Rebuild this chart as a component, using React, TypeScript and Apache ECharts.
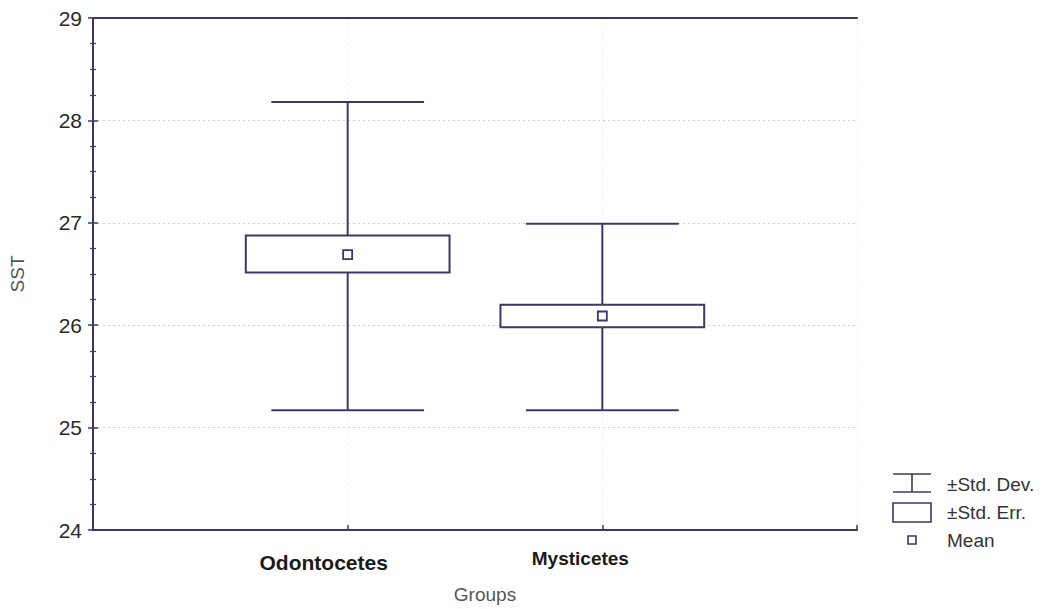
import React, { useEffect, useRef } from 'react';
import * as echarts from 'echarts';

// Group summaries of sea surface temperature (SST)
const groups = ['Odontocetes', 'Mysticetes'];
const groupPos = [1, 2];
const means = [26.69, 26.09];
const stdErrLow = [26.515, 25.98];
const stdErrHigh = [26.875, 26.2];
const stdDevLow = [25.17, 25.17];
const stdDevHigh = [28.18, 26.99];
const yTicks = [24, 25, 26, 27, 28, 29];
const legendLabels = ['\u00B1Std. Dev.', '\u00B1Std. Err.', 'Mean'];

const INK = '#3b3868';
const TEXT = '#2a2a2a';
const FONT = '"Liberation Sans", Arial, sans-serif';

export default function App() {
  const ref = useRef<HTMLDivElement>(null);

  useEffect(() => {
    if (!ref.current) return;
    const chart = echarts.init(ref.current, undefined, { renderer: 'svg' });

    const data = groups.map((_, i) => [
      groupPos[i],
      means[i],
      stdErrLow[i],
      stdErrHigh[i],
      stdDevLow[i],
      stdDevHigh[i],
    ]);

    const yMin = yTicks[0];
    const yMax = yTicks[yTicks.length - 1];

    const sideAxis = (position: 'left' | 'right', showLabels: boolean) => ({
      type: 'value',
      position,
      min: yMin,
      max: yMax,
      interval: 1,
      axisLine: { show: true, lineStyle: { color: INK, width: 2 } },
      axisTick: { show: true, inside: true, length: 5, lineStyle: { color: INK, width: 1.5 } },
      minorTick: { show: true, splitNumber: 4, length: 3, lineStyle: { color: INK, width: 1.2 } },
      axisLabel: {
        show: showLabels,
        color: TEXT,
        fontSize: 21,
        fontFamily: FONT,
        margin: 11,
      },
      splitLine: showLabels
        ? { show: true, lineStyle: { color: '#c9cbe0', type: [2, 3], width: 1 } }
        : { show: false },
      name: showLabels ? 'SST' : '',
      nameLocation: 'middle',
      nameGap: 66,
      nameTextStyle: { color: '#555', fontSize: 19, fontFamily: FONT },
    });

    const richLabels: Record<string, any> = {};
    groups.forEach((_, i) => {
      richLabels['g' + i] = {
        fontSize: i === 0 ? 21 : 19,
        fontWeight: 'bold',
        color: '#1a1a1a',
        fontFamily: FONT,
        padding: i === 0 ? [3, 48, 0, 0] : [0, 44, 0, 0],
      };
    });

    const legendY = [484, 512, 540];
    const legendX = 893;
    const legendW = 38;

    chart.setOption({
      animation: false,
      backgroundColor: '#ffffff',
      grid: { left: 90, right: 201, top: 18, bottom: 78, containLabel: false },
      xAxis: [
        {
          type: 'value',
          position: 'bottom',
          min: 0,
          max: 3,
          interval: 1,
          axisLine: { show: true, lineStyle: { color: INK, width: 2 } },
          axisTick: { show: true, inside: true, length: 5, lineStyle: { color: INK, width: 1.5 } },
          axisLabel: {
            margin: 19,
            formatter: (v: number) => {
              const idx = groupPos.indexOf(v);
              return idx >= 0 ? `{g${idx}|${groups[idx]}}` : '';
            },
            rich: richLabels,
          },
          splitLine: { show: true, lineStyle: { color: '#ecedf3', type: [2, 3], width: 1 } },
          name: 'Groups',
          nameLocation: 'middle',
          nameGap: 55,
          nameTextStyle: { color: '#555', fontSize: 19, fontFamily: FONT, padding: [0, 0, 0, 20] },
        },
        {
          type: 'value',
          position: 'top',
          min: 0,
          max: 3,
          interval: 1,
          axisLine: { show: true, lineStyle: { color: INK, width: 2 } },
          axisTick: { show: false },
          axisLabel: { show: false },
          splitLine: { show: false },
        },
      ],
      yAxis: [sideAxis('left', true), sideAxis('right', false)],
      series: [
        {
          type: 'custom',
          xAxisIndex: 0,
          yAxisIndex: 0,
          data,
          encode: { x: 0, y: [1, 2, 3, 4, 5] },
          renderItem: (params: any, api: any) => {
            const x = api.value(0);
            const band = api.size([1, 0])[0];
            const boxHalf = band * 0.4;
            const capHalf = band * 0.3;
            const [cx, yMean] = api.coord([x, api.value(1)]);
            const ySeLo = api.coord([x, api.value(2)])[1];
            const ySeHi = api.coord([x, api.value(3)])[1];
            const ySdLo = api.coord([x, api.value(4)])[1];
            const ySdHi = api.coord([x, api.value(5)])[1];
            const stroke = { stroke: INK, lineWidth: 2 };
            const sq = 9;
            return {
              type: 'group',
              children: [
                { type: 'line', shape: { x1: cx, y1: ySdHi, x2: cx, y2: ySdLo }, style: stroke },
                { type: 'line', shape: { x1: cx - capHalf, y1: ySdHi, x2: cx + capHalf, y2: ySdHi }, style: stroke },
                { type: 'line', shape: { x1: cx - capHalf, y1: ySdLo, x2: cx + capHalf, y2: ySdLo }, style: stroke },
                {
                  type: 'rect',
                  shape: { x: cx - boxHalf, y: ySeHi, width: boxHalf * 2, height: ySeLo - ySeHi },
                  style: { fill: '#ffffff', stroke: INK, lineWidth: 2 },
                },
                {
                  type: 'rect',
                  shape: { x: cx - sq / 2, y: yMean - sq / 2, width: sq, height: sq },
                  style: { fill: '#ffffff', stroke: INK, lineWidth: 1.8 },
                },
              ],
            };
          },
        },
      ],
      graphic: [
        // legend: std. dev. whisker
        { type: 'line', shape: { x1: legendX, y1: 474, x2: legendX + legendW, y2: 474 }, style: { stroke: INK, lineWidth: 1.6 } },
        { type: 'line', shape: { x1: legendX, y1: 492, x2: legendX + legendW, y2: 492 }, style: { stroke: INK, lineWidth: 1.6 } },
        { type: 'line', shape: { x1: legendX + legendW / 2, y1: 474, x2: legendX + legendW / 2, y2: 492 }, style: { stroke: INK, lineWidth: 1.6 } },
        // legend: std. err. box
        { type: 'rect', shape: { x: legendX, y: 503, width: legendW, height: 19 }, style: { fill: '#fff', stroke: INK, lineWidth: 1.6 } },
        // legend: mean marker
        { type: 'rect', shape: { x: legendX + legendW / 2 - 4, y: legendY[2] - 4, width: 8, height: 8 }, style: { fill: '#fff', stroke: INK, lineWidth: 1.6 } },
        ...legendLabels.map((t, i) => ({
          type: 'text',
          x: 947,
          y: legendY[i],
          style: {
            text: t,
            fill: '#333',
            fontSize: 19,
            fontFamily: FONT,
            verticalAlign: 'middle',
            align: 'left',
          },
        })),
      ],
    });

    return () => chart.dispose();
  }, []);

  return <div ref={ref} style={{ width: 1058, height: 609, position: 'absolute', left: 0, top: 0 }} />;
}
